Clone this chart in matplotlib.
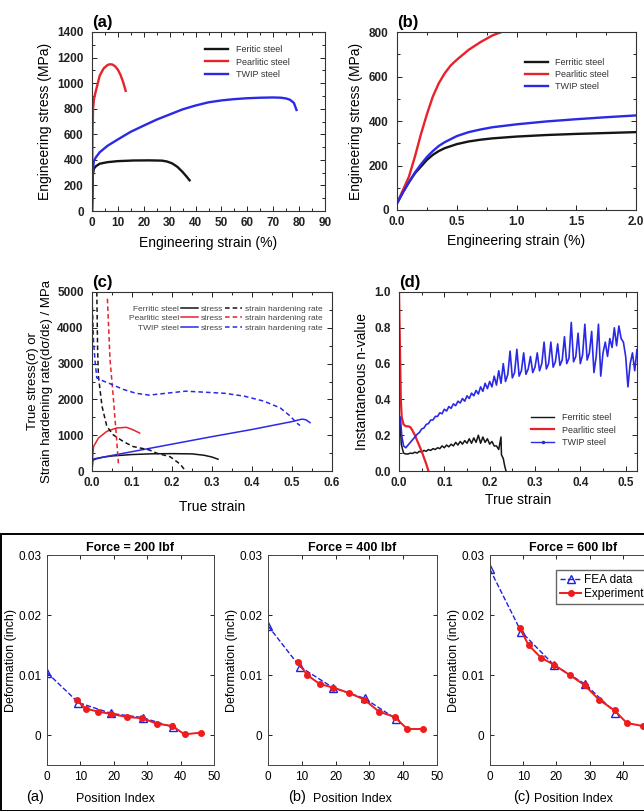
import numpy as np
import matplotlib
matplotlib.use('Agg')
import matplotlib.pyplot as plt
from matplotlib.lines import Line2D
from matplotlib.patches import Rectangle
from matplotlib.ticker import MultipleLocator, FormatStrFormatter

plt.rcParams['font.family'] = ['Liberation Sans', 'DejaVu Sans']

# ---------- (a) engineering stress-strain ----------
a_fer_x = [0, 0.3, 0.7, 1.5, 3, 6, 10, 16, 22, 27, 29, 31, 33, 35, 36.5, 37.7]
a_fer_y = [0, 280, 330, 350, 370, 382, 390, 395, 396, 394, 387, 372, 345, 305, 270, 240]
a_pea_x = [0, 0.2, 0.4, 0.8, 1.5, 3, 4.5, 6, 7, 8, 9, 10, 11, 12, 13]
a_pea_y = [0, 600, 800, 880, 940, 1060, 1115, 1142, 1148, 1145, 1130, 1105, 1065, 1010, 940]
a_twip_x = [0, 0.3, 0.7, 1.5, 3, 6, 10, 15, 20, 25, 30, 35, 40, 45, 50, 55, 60, 65, 70, 73, 75, 76.5, 78, 79]
a_twip_y = [0, 300, 390, 420, 460, 510, 560, 620, 668, 715, 755, 795, 825, 850, 865, 875, 882, 886, 888, 886, 880, 870, 845, 790]

# ---------- (b) zoom on small strains ----------
b_x = [0, 0.05, 0.1, 0.15, 0.2, 0.25, 0.3, 0.35, 0.4, 0.5, 0.6, 0.7, 0.8, 1.0, 1.25, 1.5, 1.75, 2.0]
b_fer_y = [30, 80, 125, 165, 195, 225, 248, 265, 278, 296, 308, 316, 322, 330, 337, 342, 346, 350]
b_twip_y = [30, 80, 125, 168, 205, 238, 265, 288, 305, 332, 350, 362, 372, 385, 398, 408, 417, 425]
b_pea_x = [0, 0.05, 0.1, 0.15, 0.2, 0.25, 0.3, 0.35, 0.4, 0.45, 0.5, 0.6, 0.7, 0.8, 0.9, 0.95]
b_pea_y = [30, 90, 150, 240, 340, 430, 510, 570, 615, 650, 675, 720, 755, 785, 805, 815]

# ---------- (c) true stress and strain hardening rate ----------
c_fer_x = [0, 0.002, 0.01, 0.03, 0.05, 0.1, 0.15, 0.2, 0.25, 0.28, 0.3, 0.315]
c_fer_y = [0, 300, 340, 390, 420, 460, 480, 485, 478, 440, 390, 330]
c_fer_hx = [0.012, 0.014, 0.016, 0.025, 0.037, 0.053, 0.078, 0.102, 0.143, 0.162, 0.195, 0.22, 0.234]
c_fer_hy = [5000, 3400, 2650, 1810, 1250, 1010, 825, 685, 590, 497, 400, 197, 0]
c_pea_x = [0, 0.002, 0.004, 0.016, 0.037, 0.061, 0.086, 0.102, 0.119]
c_pea_y = [0, 450, 685, 920, 1107, 1200, 1220, 1154, 1060]
c_pea_hx = [0.0385, 0.045, 0.053, 0.061, 0.066]
c_pea_hy = [4810, 3120, 2090, 970, 215]
c_twip_x = [0, 0.005, 0.1, 0.2, 0.3, 0.4, 0.5, 0.525, 0.535, 0.545]
c_twip_y = [300, 340, 540, 750, 960, 1160, 1380, 1450, 1430, 1350]
c_twip_hx = [0.0, 0.004, 0.008, 0.012, 0.029, 0.049, 0.078, 0.11, 0.143, 0.184, 0.234, 0.283,
             0.332, 0.381, 0.43, 0.471, 0.496, 0.512, 0.52]
c_twip_hy = [5000, 3590, 3030, 2600, 2510, 2420, 2280, 2170, 2120, 2170, 2230, 2200,
             2170, 2090, 1950, 1760, 1530, 1340, 1270]

# ---------- (d) instantaneous n-value ----------
d_pea_x = [0.0, 0.002, 0.004, 0.006, 0.01, 0.015, 0.02, 0.025, 0.03, 0.035, 0.04, 0.045,
           0.05, 0.055, 0.06, 0.065]
d_pea_y = [1.0, 0.7, 0.4, 0.3, 0.26, 0.25, 0.25, 0.245, 0.225, 0.2, 0.17, 0.14,
           0.11, 0.075, 0.04, 0.0]
d_fer_x = [0.002, 0.005] + list(np.round(np.arange(0.01, 0.2201, 0.005), 3)) + [0.225, 0.226, 0.23, 0.233, 0.236]
d_fer_y = [0.3, 0.15,
           0.10, 0.095, 0.095, 0.10, 0.098, 0.105, 0.10, 0.11, 0.105, 0.115, 0.11, 0.12,
           0.115, 0.125, 0.12, 0.13, 0.125, 0.14, 0.13, 0.145, 0.135, 0.15, 0.14, 0.16,
           0.145, 0.165, 0.15, 0.17, 0.155, 0.18, 0.155, 0.185, 0.16, 0.20, 0.155, 0.19,
           0.16, 0.18, 0.15, 0.165, 0.14, 0.14, 0.12,
           0.19, 0.09, 0.07, 0.03, 0.0]
d_twip_x = [0.003, 0.006, 0.01] + list(np.round(np.linspace(0.015, 0.53, 104), 3))
d_twip_y = [0.30, 0.20, 0.14,
            0.13, 0.145, 0.16, 0.175, 0.19, 0.205, 0.215, 0.235, 0.24, 0.26,
            0.265, 0.285, 0.285, 0.305, 0.305, 0.325, 0.32, 0.345, 0.335, 0.36,
            0.35, 0.375, 0.365, 0.39, 0.38, 0.405, 0.39, 0.42, 0.405, 0.435,
            0.42, 0.45, 0.43, 0.47, 0.445, 0.49, 0.46, 0.50, 0.47, 0.53,
            0.48, 0.56, 0.49, 0.60, 0.50, 0.54, 0.67, 0.52, 0.55, 0.68,
            0.53, 0.56, 0.66, 0.54, 0.57, 0.64, 0.55, 0.58, 0.66, 0.56,
            0.60, 0.72, 0.57, 0.60, 0.72, 0.58, 0.61, 0.71, 0.59, 0.62,
            0.75, 0.60, 0.63, 0.83, 0.61, 0.64, 0.77, 0.60, 0.65, 0.82,
            0.62, 0.66, 0.78, 0.55, 0.64, 0.82, 0.53, 0.66, 0.72, 0.64,
            0.74, 0.69, 0.80, 0.70, 0.81, 0.74, 0.72, 0.64, 0.47, 0.60,
            0.66, 0.56, 0.68, 0.58]

# ---------- bottom figure: FEA vs experiment ----------
pos_fea = [0, 9.4, 19.2, 28.6, 37.8]
pos_exp = [8.9, 11.6, 15.3, 19.3, 24.0, 28.5, 32.8, 37.5, 41.2, 46.0]
forces = ['200', '400', '600']
fea_data = [[0.0104, 0.0054, 0.0036, 0.0029, 0.0013],
            [0.0182, 0.0114, 0.0079, 0.0061, 0.0027],
            [0.0276, 0.0172, 0.0117, 0.0085, 0.0037]]
exp_data = [[0.0058, 0.0044, 0.0039, 0.0035, 0.0030, 0.0028, 0.0019, 0.0015, 0.0001, 0.0004],
            [0.0121, 0.0100, 0.0085, 0.0079, 0.0070, 0.0059, 0.0039, 0.0030, 0.0010, 0.0010],
            [0.0179, 0.0150, 0.0129, 0.0117, 0.0100, 0.0083, 0.0059, 0.0041, 0.0020, 0.0015]]

W, H = 644, 811
fig = plt.figure(figsize=(W / 100, H / 100), dpi=100)

BLACK = '#151515'
RED = '#e8222a'
BLUE = '#2a2ae6'


def box(l, t, r, b):
    return fig.add_axes([l / W, 1 - b / H, (r - l) / W, (b - t) / H])


def style_top(ax, xmaj, xmin, ymaj, ymin):
    ax.xaxis.set_major_locator(MultipleLocator(xmaj))
    ax.xaxis.set_minor_locator(MultipleLocator(xmin))
    ax.yaxis.set_major_locator(MultipleLocator(ymaj))
    ax.yaxis.set_minor_locator(MultipleLocator(ymin))
    ax.tick_params(which='both', direction='in', top=True, right=True,
                   labelsize=8.5, width=0.7, colors='#222222')
    ax.tick_params(axis='y', pad=6)
    ax.tick_params(axis='x', pad=4)
    ax.tick_params(which='major', length=3.5)
    ax.tick_params(which='minor', length=2)
    for s in ax.spines.values():
        s.set_linewidth(0.8)
        s.set_color('#333333')


def bold_ticks(ax):
    for t in ax.get_xticklabels() + ax.get_yticklabels():
        t.set_fontweight('bold')


# (a)
ax = box(92, 32, 325, 211)
ax.plot(a_fer_x, a_fer_y, color=BLACK, lw=1.7, label='Feritic steel')
ax.plot(a_pea_x, a_pea_y, color=RED, lw=1.7, label='Pearlitic steel')
ax.plot(a_twip_x, a_twip_y, color=BLUE, lw=1.7, label='TWIP steel')
ax.set_xlim(0, 90)
ax.set_ylim(0, 1400)
style_top(ax, 10, 5, 200, 100)
ax.set_xlabel('Engineering strain (%)', fontsize=10, labelpad=5)
ax.set_ylabel('Engineering stress (MPa)', fontsize=10, labelpad=4)
ax.legend(loc='upper left', frameon=False, fontsize=6.5, handlelength=2.6,
          labelspacing=0.35, bbox_to_anchor=(0.45, 0.97), labelcolor='#333333')
ax.text(0, 1.03, '(a)', transform=ax.transAxes, fontsize=12, fontweight='bold')
bold_ticks(ax)

# (b)
ax = box(397, 32, 636, 210)
ax.plot(b_x, b_fer_y, color=BLACK, lw=1.7, label='Ferritic steel')
ax.plot(b_pea_x, b_pea_y, color=RED, lw=1.7, label='Pearlitic steel')
ax.plot(b_x, b_twip_y, color=BLUE, lw=1.7, label='TWIP steel')
ax.set_xlim(0, 2.0)
ax.set_ylim(0, 800)
style_top(ax, 0.5, 0.25, 200, 100)
ax.xaxis.set_major_formatter(FormatStrFormatter('%.1f'))
ax.set_xlabel('Engineering strain (%)', fontsize=10, labelpad=5)
ax.set_ylabel('Engineering stress (MPa)', fontsize=10, labelpad=4)
ax.legend(loc='upper left', frameon=False, fontsize=6.5, handlelength=2.6,
          labelspacing=0.35, bbox_to_anchor=(0.50, 0.90), labelcolor='#333333')
ax.text(0, 1.03, '(b)', transform=ax.transAxes, fontsize=12, fontweight='bold')
bold_ticks(ax)

# (c)
ax = box(92, 292, 332, 471)
s1, = ax.plot(c_fer_x, c_fer_y, color=BLACK, lw=1.1)
s2, = ax.plot(c_pea_x, c_pea_y, color=RED, lw=1.1)
s3, = ax.plot(c_twip_x, c_twip_y, color=BLUE, lw=1.1)
h1, = ax.plot(c_fer_hx, c_fer_hy, color=BLACK, lw=1.1, ls=(0, (3, 2)))
h2, = ax.plot(c_pea_hx, c_pea_hy, color=RED, lw=1.1, ls=(0, (3, 2)))
h3, = ax.plot(c_twip_hx, c_twip_hy, color=BLUE, lw=1.1, ls=(0, (3, 2)))
ax.set_xlim(0, 0.6)
ax.set_ylim(0, 5000)
style_top(ax, 0.1, 0.05, 1000, 500)
ax.xaxis.set_major_formatter(FormatStrFormatter('%.1f'))
ax.set_xlabel('True strain', fontsize=10, labelpad=8)
ax.set_ylabel('True stress(σ) or\nStrain hardening rate(dσ/dε) / MPa', fontsize=9.5, labelpad=3)
blank = Line2D([], [], color='none')
ax.legend([s1, s2, s3, h1, h2, h3, blank, blank, blank],
          ['Ferritic steel', 'Pearlitic steel', 'TWIP steel',
           'stress', 'stress', 'stress',
           'strain hardening rate', 'strain hardening rate', 'strain hardening rate'],
          ncol=3, markerfirst=False, frameon=False, fontsize=6, handlelength=2.0,
          handletextpad=0.3, columnspacing=0.3, labelspacing=0.2,
          loc='upper right', bbox_to_anchor=(1.07, 0.97), labelcolor='#444444')
ax.text(0, 1.03, '(c)', transform=ax.transAxes, fontsize=12, fontweight='bold')
bold_ticks(ax)

# (d)
ax = box(399, 292, 637, 471)
ax.plot(d_fer_x, d_fer_y, color=BLACK, lw=1.1, label='Ferritic steel')
ax.plot(d_pea_x, d_pea_y, color=RED, lw=1.6, label='Pearlitic steel')
ax.plot(d_twip_x, d_twip_y, color=BLUE, lw=1.2, label='TWIP steel')
ax.set_xlim(0, 0.525)
ax.set_ylim(0, 1.0)
style_top(ax, 0.1, 0.05, 0.2, 0.1)
ax.xaxis.set_major_formatter(FormatStrFormatter('%.1f'))
ax.yaxis.set_major_formatter(FormatStrFormatter('%.1f'))
ax.set_xlabel('True strain', fontsize=10, labelpad=3)
ax.set_ylabel('Instantaneous n-value', fontsize=10, labelpad=4)
leg_h = [Line2D([], [], color=BLACK, lw=1), Line2D([], [], color=RED, lw=1.6),
         Line2D([], [], color=BLUE, lw=1, marker='.', ms=3)]
ax.legend(leg_h, ['Ferritic steel', 'Pearlitic steel', 'TWIP steel'], loc='lower left',
          frameon=False, fontsize=6.5, handlelength=2.6, labelspacing=0.35,
          bbox_to_anchor=(0.52, 0.09), labelcolor='#333333')
ax.text(0, 1.03, '(d)', transform=ax.transAxes, fontsize=12, fontweight='bold')
bold_ticks(ax)

# ---------- bottom figure ----------
fig.patches.append(Rectangle((1 / W, 0), 1.2, 1 - 534 / H, transform=fig.transFigure,
                             fill=False, edgecolor='black', lw=1.4))
bottom_boxes = [(47, 214), (268, 437), (490, 656)]
tag_x = [-0.07, 0.17, 0.19]
label_x = [0.41, 0.5, 0.5]
for i, (l, r) in enumerate(bottom_boxes):
    ax = box(l, 555, r, 765)
    ax.plot(pos_fea, fea_data[i], color='#2020e0', ls='--', lw=1.0, marker='^', ms=6,
            mfc='none', mec='#2020e0', mew=1.0, label='FEA data')
    ax.plot(pos_exp, exp_data[i], color='#ee1c1c', lw=1.4, marker='o', ms=4,
            mfc='#ee1c1c', mec='#ee1c1c', label='Experiment data')
    ax.set_xlim(0, 50)
    ax.set_ylim(-0.005, 0.03)
    ax.set_xticks([0, 10, 20, 30, 40, 50])
    ax.set_yticks([0, 0.01, 0.02, 0.03])
    ax.set_yticklabels(['0', '0.01', '0.02', '0.03'])
    ax.tick_params(direction='in', top=True, right=True, length=3, width=0.6,
                   labelsize=8.5, pad=4)
    for s in ax.spines.values():
        s.set_linewidth(0.7)
        s.set_color('#444444')
    ax.set_title('Force = %s lbf' % forces[i], fontsize=9, fontweight='bold', pad=3)
    ax.set_xlabel('Position Index', fontsize=9, labelpad=3)
    ax.xaxis.set_label_coords(label_x[i], -0.135)
    ax.text(tag_x[i], -0.15, '(%s)' % 'abc'[i], transform=ax.transAxes, fontsize=10.5,
            ha='center', va='center')
    ax.set_ylabel('Deformation (inch)', fontsize=9, labelpad=1)
    if i == 2:
        ax.legend(loc='upper left', prop={'size': 8.5},
                  handlelength=1.8, handletextpad=0.2, borderpad=0.3, labelspacing=0.2,
                  fancybox=False, edgecolor='#666666', framealpha=1,
                  bbox_to_anchor=(0.365, 0.955))

fig.savefig('out.png', dpi=100)
